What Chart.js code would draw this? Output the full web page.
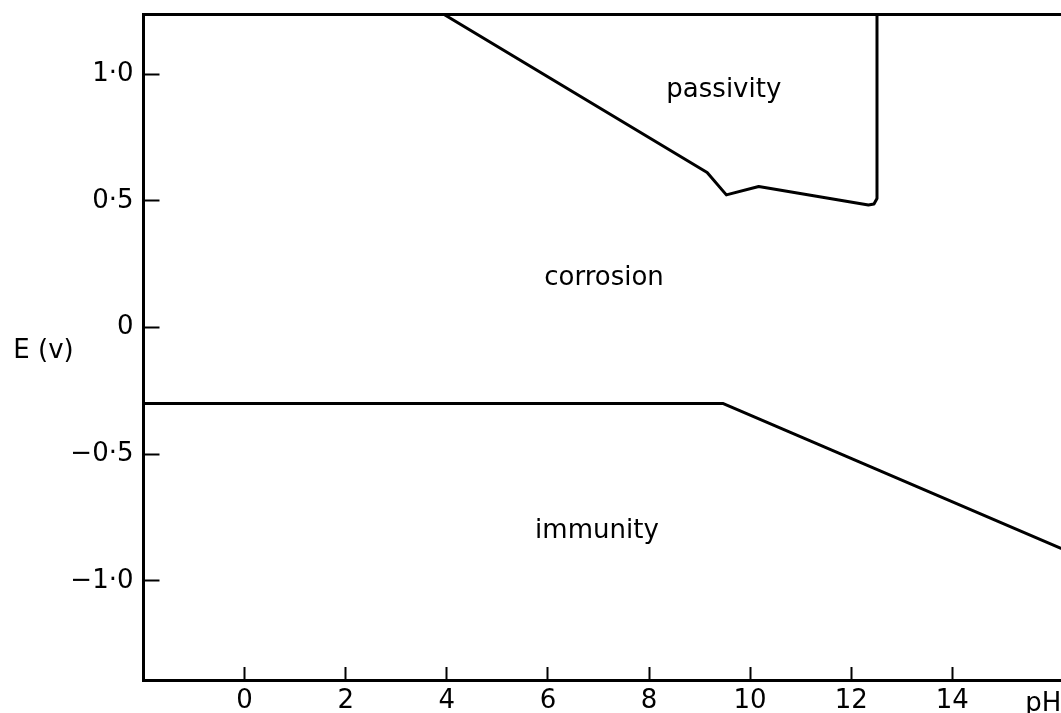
<!DOCTYPE html>
<html><head><meta charset="utf-8">
<script src="https://cdn.jsdelivr.net/npm/chart.js@4.4.1/dist/chart.umd.min.js"></script>
<style>html,body{margin:0;padding:0;background:#fff;overflow:hidden}#wrap{width:1061px;height:713px}</style>
</head><body><div id="wrap"><canvas id="c" width="1061" height="713"></canvas></div>
<script>
// Passivity / corrosion boundary (pH, E in volts)
const passivityBoundaryPH = [3.93, 9.15, 9.53, 10.17, 12.34, 12.45, 12.51, 12.51];
const passivityBoundaryE  = [1.238, 0.612, 0.524, 0.557, 0.484, 0.488, 0.51, 1.238];
// Immunity / corrosion boundary
const immunityBoundaryPH = [-2, 9.47, 16.15];
const immunityBoundaryE  = [-0.30, -0.30, -0.871];
// Tick values
const xTickValues = [0, 2, 4, 6, 8, 10, 12, 14];
const yTickValues = [-1.0, -0.5, 0, 0.5, 1.0];
// Region labels
const regionNames = ['passivity', 'corrosion', 'immunity'];
const regionPH = [9.48, 7.11, 6.97];
const regionE = [0.911, 0.169, -0.832];
const xAxisName = 'pH';
const yAxisName = 'E (v)';

const X_MIN = -2, X_MAX = 16.15, Y_MIN = -1.391, Y_MAX = 1.238;
const FONT = {family: 'DejaVu Sans', size: 26};

const toPts = (xs, ys) => xs.map((x, i) => ({x: x, y: ys[i]}));
const fmtY = v => v === 0 ? '0' : (v < 0 ? '\u2212' : '') + Math.abs(v).toFixed(1).replace('.', '\u00B7');

const textPlugin = {
  id: 'texts',
  afterDraw(chart) {
    const {ctx, scales: {x, y}, chartArea} = chart;
    ctx.save();
    ctx.fillStyle = '#000';
    ctx.font = FONT.size + 'px "' + FONT.family + '"';
    ctx.textAlign = 'center';
    ctx.textBaseline = 'alphabetic';
    regionNames.forEach((t, i) => ctx.fillText(t, x.getPixelForValue(regionPH[i]), y.getPixelForValue(regionE[i])));
    ctx.fillText(xAxisName, x.getPixelForValue(15.8), x.bottom - 2);
    ctx.fillText(yAxisName, chartArea.left - 100, y.getPixelForValue(-0.12));
    ctx.restore();
  }
};

const lineStyle = {borderColor: '#000', borderWidth: 3, pointRadius: 0, tension: 0, fill: false,
  borderJoinStyle: 'round', borderCapStyle: 'round', xAxisID: 'x', yAxisID: 'y'};

const noPad = s => { s.paddingTop = 0; s.paddingBottom = 0; s.paddingLeft = 0; s.paddingRight = 0; };

new Chart(document.getElementById('c'), {
  type: 'line',
  data: {datasets: [
    Object.assign({data: toPts(passivityBoundaryPH, passivityBoundaryE)}, lineStyle),
    Object.assign({data: toPts(immunityBoundaryPH, immunityBoundaryE)}, lineStyle)
  ]},
  options: {
    responsive: false, animation: false, events: [],
    layout: {padding: {left: 0, right: 0, top: 14, bottom: 0}},
    plugins: {legend: {display: false}, tooltip: {enabled: false}},
    scales: {
      x: {
        type: 'linear', position: 'bottom', min: X_MIN, max: X_MAX,
        afterBuildTicks: s => { s.ticks = xTickValues.map(v => ({value: v})); },
        afterFit: s => { s.height = 33; noPad(s); },
        border: {display: true, color: '#000', width: 3},
        grid: {display: true, drawOnChartArea: false, drawTicks: true, tickLength: -13, tickWidth: 2, tickColor: '#000'},
        ticks: {color: '#000', font: FONT, padding: 19, maxRotation: 0, autoSkip: false, callback: v => String(v)}
      },
      xTop: {
        type: 'linear', position: 'top', min: X_MIN, max: X_MAX,
        afterFit: s => { s.height = 0; noPad(s); },
        border: {display: true, color: '#000', width: 3},
        grid: {display: true, drawOnChartArea: false, drawTicks: false},
        ticks: {display: false}
      },
      y: {
        type: 'linear', position: 'left', min: Y_MIN, max: Y_MAX,
        afterBuildTicks: s => { s.ticks = yTickValues.map(v => ({value: v})); },
        afterFit: s => { s.width = 143.5; noPad(s); },
        border: {display: true, color: '#000', width: 3},
        grid: {display: true, drawOnChartArea: false, drawTicks: true, tickLength: -16, tickWidth: 2, tickColor: '#000'},
        ticks: {color: '#000', font: FONT, padding: 26, autoSkip: false, callback: v => fmtY(v)}
      }
    }
  },
  plugins: [textPlugin]
});
</script>
</body></html>
